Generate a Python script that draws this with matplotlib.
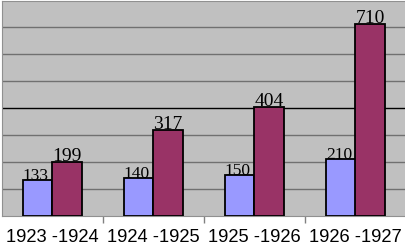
import matplotlib
matplotlib.use("Agg")
import matplotlib.pyplot as plt
import numpy as np

# data
periods = ["1923 -1924", "1924 -1925", "1925 -1926", "1926 -1927"]
series_a = [133, 140, 150, 210]
series_b = [199, 317, 404, 710]

BLUE = "#9999ff"
PLUM = "#993366"
BG = "#c0c0c0"

fig = plt.figure(figsize=(4.06, 2.45), dpi=100)
ax = fig.add_axes([2 / 406, 1 - 216 / 245, 404 / 406, 215 / 245])
ax.set_facecolor(BG)

x = np.arange(len(periods))
w = 0.29
ax.bar(x - w / 2, series_a, w, color=BLUE, edgecolor="black", linewidth=1.3, zorder=3)
ax.bar(x + w / 2, series_b, w, color=PLUM, edgecolor="black", linewidth=1.3, zorder=3)

for xi, v in zip(x - w / 2, series_a):
    ax.text(xi - 0.02, v + 1, str(v), ha="center", va="baseline",
            family="Liberation Serif", fontsize=12.5, zorder=2)
for xi, v in zip(x + w / 2, series_b):
    ax.text(xi, v + 4, str(v), ha="center", va="baseline",
            family="Liberation Serif", fontsize=14, zorder=2)

# gridlines every 100, the 400 line darker
for g in range(100, 800, 100):
    ax.axhline(g, color="black" if g == 400 else "#707070", lw=1.0, zorder=1)

ax.set_xlim(-0.5, 3.5)
ax.set_ylim(0, 796)
ax.set_yticks([])
ax.set_xticks(np.arange(0.5, 3.5, 1.0))
ax.set_xticklabels([])
ax.set_xticks(x, minor=True)
ax.set_xticklabels(periods, minor=True, family="Liberation Sans", fontsize=13.2)
ax.tick_params(axis="x", which="major", length=5, color="#808080", width=1)
ax.tick_params(axis="x", which="minor", length=0, pad=9)

for side in ["left", "top"]:
    ax.spines[side].set_color("#909090")
ax.spines["right"].set_visible(False)
ax.spines["bottom"].set_color("#909090")

fig.savefig("out.png", dpi=100)
